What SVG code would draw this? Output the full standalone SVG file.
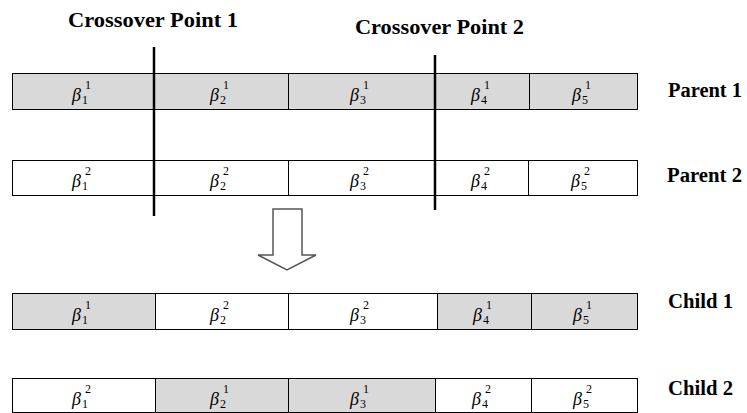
<svg xmlns="http://www.w3.org/2000/svg" width="747" height="413" viewBox="0 0 747 413">
  <style>
    .cell { stroke: #000; stroke-width: 1; }
    .g { fill: #d9d9d9; }
    .w { fill: #ffffff; }
    .lbl { font-family: "Liberation Serif", "Times New Roman", serif; font-weight: bold; font-size: 20px; fill: #000; }
    .b { font-family: "Liberation Serif", "Times New Roman", serif; font-style: italic; font-size: 18px; fill: #000; }
    .s { font-family: "Liberation Serif", "Times New Roman", serif; font-size: 12px; fill: #000; }
    .cut { stroke: #000; stroke-width: 2.5; }
  </style>

  <!-- crossover titles -->
  <g id="title-cp1"><text class="lbl" x="68" y="27" textLength="170" lengthAdjust="spacingAndGlyphs">Crossover Point 1</text></g>
  <g id="title-cp2"><text class="lbl" x="355" y="34" textLength="169" lengthAdjust="spacingAndGlyphs">Crossover Point 2</text></g>

  <!-- Parent 1 -->
  <g id="parent1">
    <rect class="cell g" x="12.5" y="73.5" width="142" height="36"/>
    <rect class="cell g" x="154.5" y="73.5" width="134" height="36"/>
    <rect class="cell g" x="288.5" y="73.5" width="147" height="36"/>
    <rect class="cell g" x="435.5" y="73.5" width="94" height="36"/>
    <rect class="cell g" x="529.5" y="73.5" width="108" height="36"/>
    <text class="b" x="72" y="101">β</text><text class="s" x="85" y="89">1</text><text class="s" x="82" y="104">1</text>
    <text class="b" x="210" y="101">β</text><text class="s" x="223" y="89">1</text><text class="s" x="220" y="104">2</text>
    <text class="b" x="350" y="101">β</text><text class="s" x="363" y="89">1</text><text class="s" x="360" y="104">3</text>
    <text class="b" x="471" y="101">β</text><text class="s" x="484" y="89">1</text><text class="s" x="481" y="104">4</text>
    <text class="b" x="572" y="101">β</text><text class="s" x="585" y="89">1</text><text class="s" x="582" y="104">5</text>
    <text class="lbl" x="668" y="97" textLength="74" lengthAdjust="spacingAndGlyphs">Parent 1</text>
  </g>

  <!-- Parent 2 -->
  <g id="parent2">
    <rect class="cell w" x="12.5" y="160.5" width="142" height="35"/>
    <rect class="cell w" x="154.5" y="160.5" width="134" height="35"/>
    <rect class="cell w" x="288.5" y="160.5" width="147" height="35"/>
    <rect class="cell w" x="435.5" y="160.5" width="93" height="35"/>
    <rect class="cell w" x="528.5" y="160.5" width="109" height="35"/>
    <text class="b" x="72" y="187">β</text><text class="s" x="85" y="175">2</text><text class="s" x="82" y="190">1</text>
    <text class="b" x="210" y="187">β</text><text class="s" x="223" y="175">2</text><text class="s" x="220" y="190">2</text>
    <text class="b" x="350" y="187">β</text><text class="s" x="363" y="175">2</text><text class="s" x="360" y="190">3</text>
    <text class="b" x="471" y="187">β</text><text class="s" x="484" y="175">2</text><text class="s" x="481" y="190">4</text>
    <text class="b" x="571" y="187">β</text><text class="s" x="584" y="175">2</text><text class="s" x="581" y="190">5</text>
    <text class="lbl" x="667" y="182" textLength="75" lengthAdjust="spacingAndGlyphs">Parent 2</text>
  </g>

  <!-- Child 1 -->
  <g id="child1">
    <rect class="cell g" x="12.5" y="293.5" width="143" height="36"/>
    <rect class="cell w" x="155.5" y="293.5" width="133" height="36"/>
    <rect class="cell w" x="288.5" y="293.5" width="149" height="36"/>
    <rect class="cell g" x="437.5" y="293.5" width="94" height="36"/>
    <rect class="cell g" x="531.5" y="293.5" width="106" height="36"/>
    <text class="b" x="72" y="321">β</text><text class="s" x="85" y="309">1</text><text class="s" x="82" y="324">1</text>
    <text class="b" x="210" y="321">β</text><text class="s" x="223" y="309">2</text><text class="s" x="220" y="324">2</text>
    <text class="b" x="350" y="321">β</text><text class="s" x="363" y="309">2</text><text class="s" x="360" y="324">3</text>
    <text class="b" x="473" y="321">β</text><text class="s" x="486" y="309">1</text><text class="s" x="483" y="324">4</text>
    <text class="b" x="573" y="321">β</text><text class="s" x="586" y="309">1</text><text class="s" x="583" y="324">5</text>
    <text class="lbl" x="668" y="308" textLength="65" lengthAdjust="spacingAndGlyphs">Child 1</text>
  </g>

  <!-- Child 2 -->
  <g id="child2">
    <rect class="cell w" x="12.5" y="378.5" width="143" height="34"/>
    <rect class="cell g" x="155.5" y="378.5" width="133" height="34"/>
    <rect class="cell g" x="288.5" y="378.5" width="147" height="34"/>
    <rect class="cell w" x="435.5" y="378.5" width="96" height="34"/>
    <rect class="cell w" x="531.5" y="378.5" width="106" height="34"/>
    <text class="b" x="72" y="405">β</text><text class="s" x="85" y="393">2</text><text class="s" x="82" y="408">1</text>
    <text class="b" x="210" y="405">β</text><text class="s" x="223" y="393">1</text><text class="s" x="220" y="408">2</text>
    <text class="b" x="350" y="405">β</text><text class="s" x="363" y="393">1</text><text class="s" x="360" y="408">3</text>
    <text class="b" x="472" y="405">β</text><text class="s" x="485" y="393">2</text><text class="s" x="482" y="408">4</text>
    <text class="b" x="573" y="405">β</text><text class="s" x="586" y="393">2</text><text class="s" x="583" y="408">5</text>
    <text class="lbl" x="668" y="395" textLength="65" lengthAdjust="spacingAndGlyphs">Child 2</text>
  </g>

  <!-- crossover cut lines and the downward block arrow -->
  <g id="connectors">
    <line class="cut" x1="154" y1="47" x2="154" y2="216"/>
    <line class="cut" x1="435" y1="55" x2="435" y2="210"/>
    <polygon points="273,209 302,209 302,255 316,255 287,270 258,255 273,255" fill="#fff" stroke="#555" stroke-width="1.5"/>
  </g>
</svg>
